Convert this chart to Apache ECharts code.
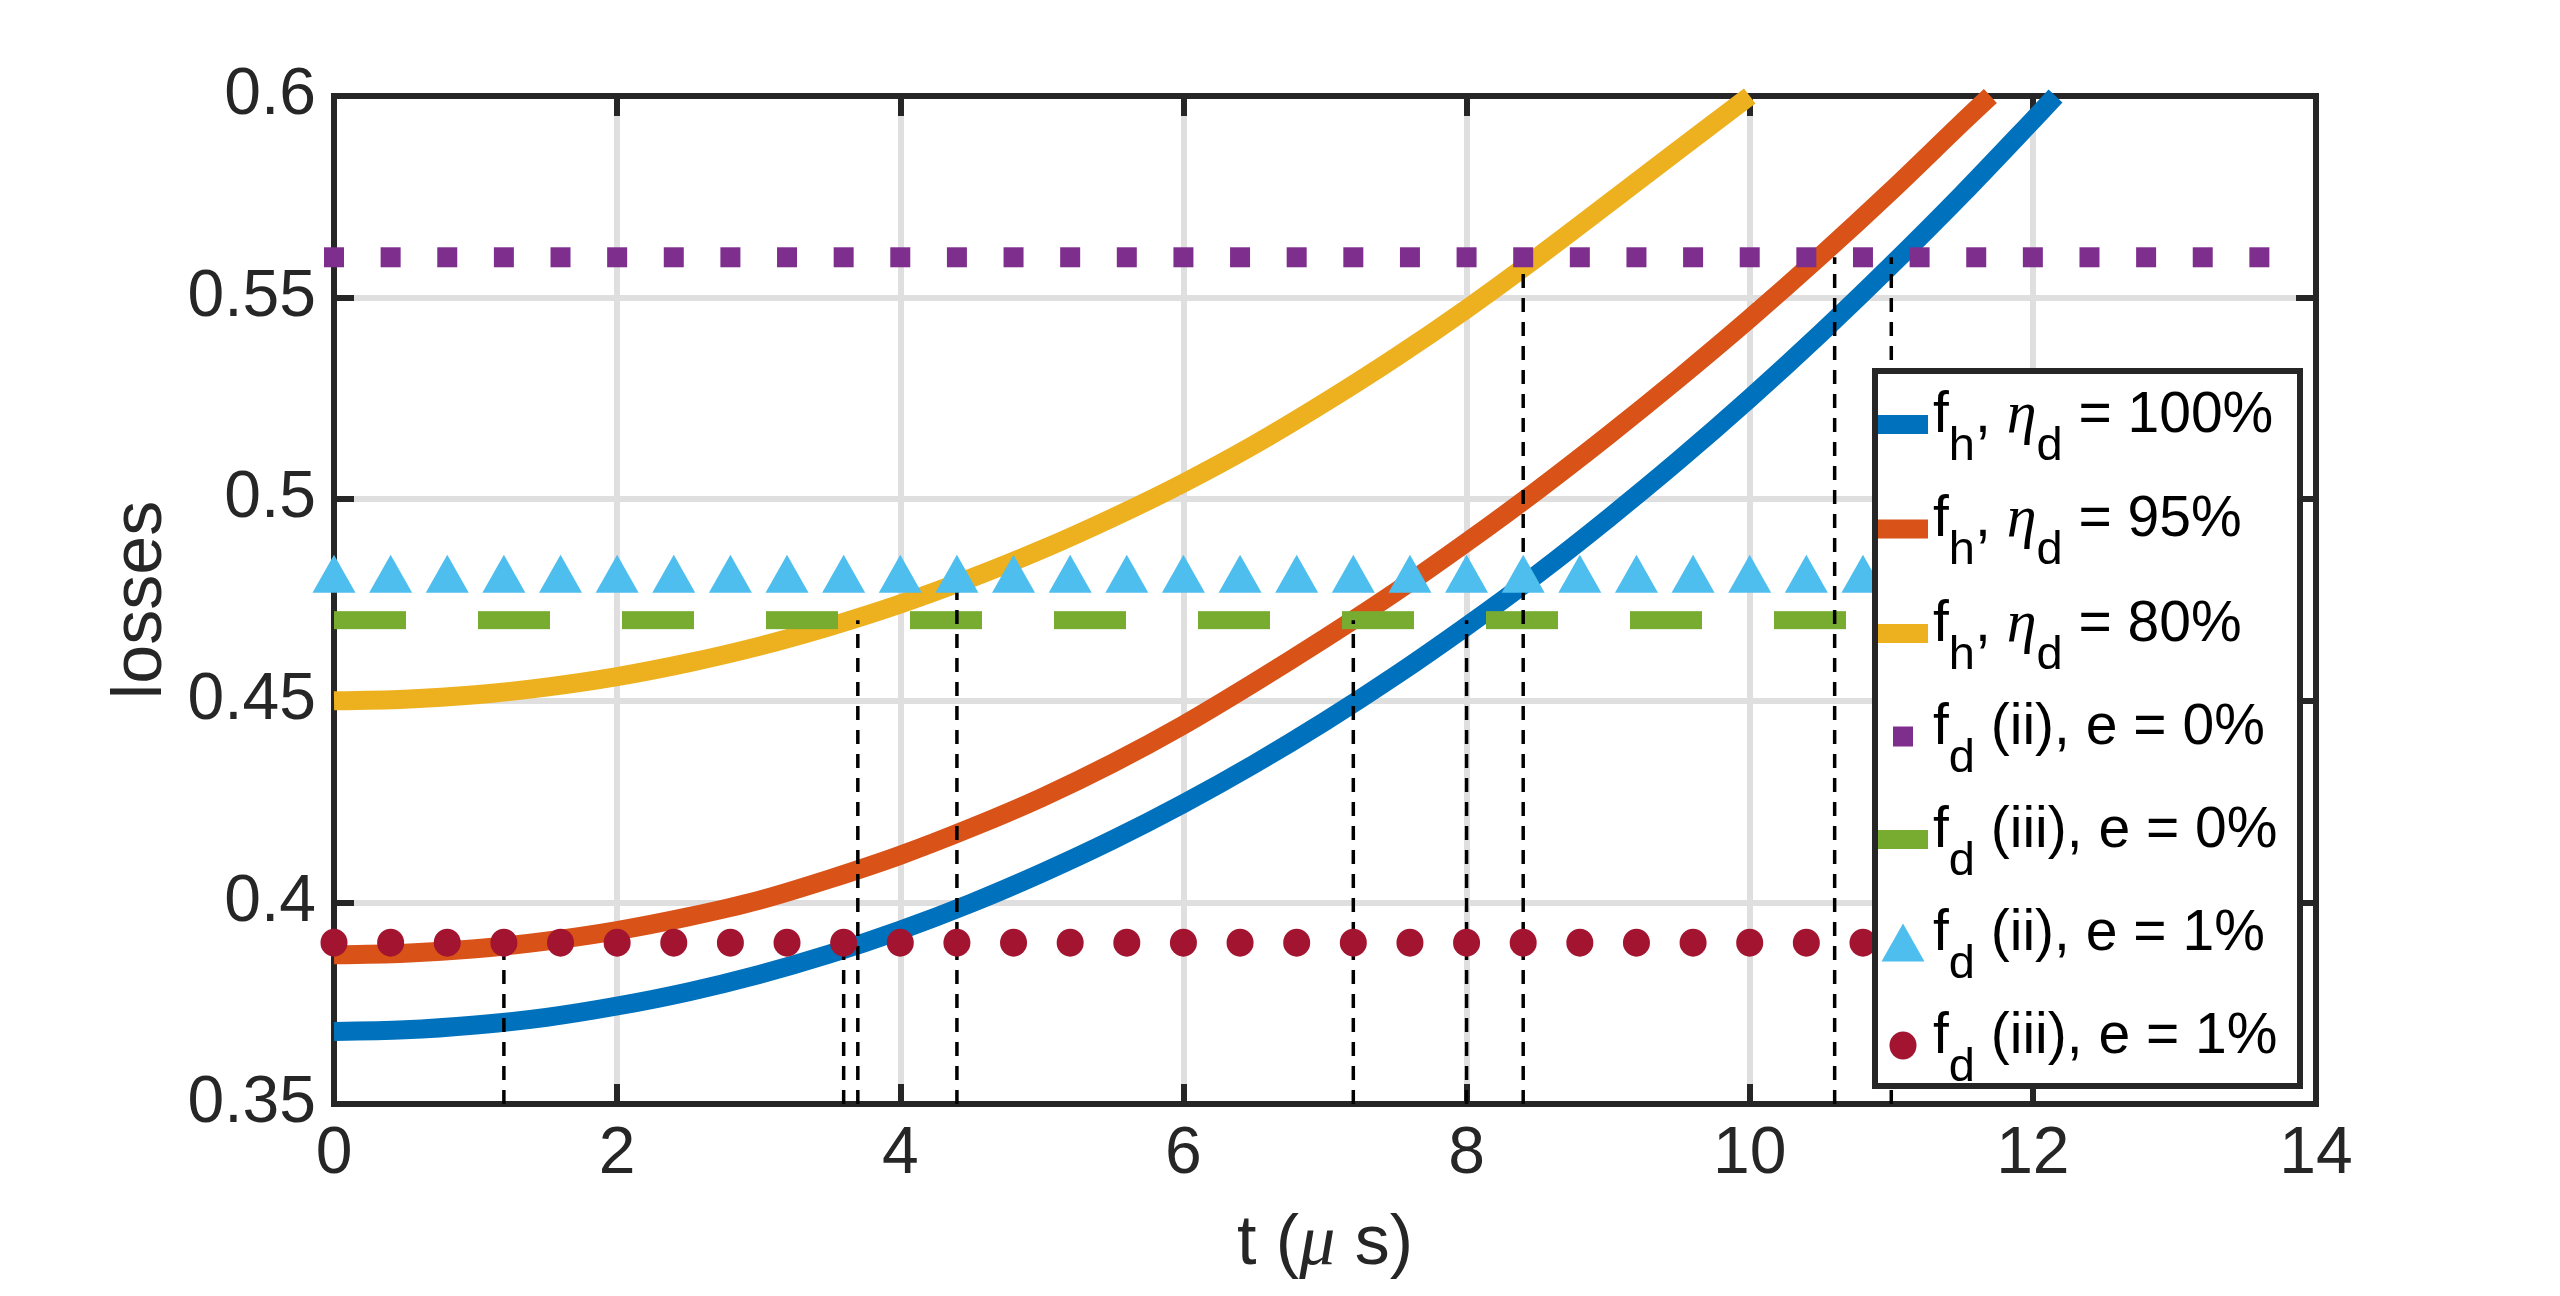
<!DOCTYPE html>
<html>
<head>
<meta charset="utf-8">
<title>losses vs t</title>
<script src="https://cdn.jsdelivr.net/npm/echarts@6/dist/echarts.min.js"></script>
<style>
  html, body { margin: 0; padding: 0; background: #fff; }
  #main { width: 2560px; height: 1296px; }
</style>
</head>
<body>
<div id="main"></div>
<script>
// axis ticks
var xTicks = [0, 2, 4, 6, 8, 10, 12, 14];
var yTicks = [0.35, 0.4, 0.45, 0.5, 0.55, 0.6];

// f_h curves (every 0.5 us)
var tEta100 = [0, 0.5, 1, 1.5, 2, 2.5, 3, 3.5, 4, 4.5, 5, 5.5, 6, 6.5, 7, 7.5, 8, 8.5, 9, 9.5,
  10, 10.5, 11, 11.5, 12, 12.16];
var lossEta100 = [0.368, 0.3684, 0.3696, 0.3715, 0.3743, 0.3778, 0.3821, 0.3872, 0.3931, 0.3998,
  0.4073, 0.4155, 0.4245, 0.4343, 0.4449, 0.4563, 0.4685, 0.4814, 0.4952, 0.5097,
  0.525, 0.5411, 0.558, 0.5756, 0.594, 0.6];
var tEta95 = [0, 0.5, 1, 1.5, 2, 2.5, 3, 3.5, 4, 4.5, 5, 5.5, 6, 6.5, 7, 7.5, 8, 8.5, 9, 9.5,
  10, 10.5, 11, 11.5, 11.7];
var lossEta95 = [0.387, 0.3874, 0.3885, 0.3904, 0.393, 0.3964, 0.4005, 0.4058, 0.4117, 0.4185,
  0.426, 0.4345, 0.444, 0.4545, 0.4655, 0.477, 0.4893, 0.5022, 0.5158, 0.53,
  0.5448, 0.5603, 0.5765, 0.5934, 0.6];
var tEta80 = [0, 0.5, 1, 1.5, 2, 2.5, 3, 3.5, 4, 4.5, 5, 5.5, 6, 6.5, 7, 7.5, 8, 8.5, 9, 9.5, 10];
var lossEta80 = [0.45, 0.4504, 0.4515, 0.4534, 0.456, 0.4594, 0.4635, 0.4684, 0.474, 0.4804,
  0.4875, 0.4954, 0.504, 0.5135, 0.524, 0.5352, 0.5472, 0.56, 0.5733, 0.5867, 0.6];

// f_d levels, markers every 0.4
var markT = [0, 0.4, 0.8, 1.2, 1.6, 2, 2.4, 2.8, 3.2, 3.6, 4, 4.4, 4.8, 5.2, 5.6, 6, 6.4, 6.8,
  7.2, 7.6, 8, 8.4, 8.8, 9.2, 9.6, 10, 10.4, 10.8, 11.2, 11.6, 12, 12.4, 12.8, 13.2, 13.6];
var lossII0 = 0.56;
var lossIII0 = 0.47;
var lossII1 = 0.48;
var lossIII1 = 0.39;
var lineIII0T = [0, 14];

// dashed drop lines at the crossings
var dropT = [1.2, 3.6, 3.7, 4.4, 7.2, 8.0, 8.4, 10.6, 11.0];
var dropTop = [0.39, 0.39, 0.47, 0.48, 0.47, 0.47, 0.56, 0.56, 0.56];

var names = ['fh, ηd = 100%', 'fh, ηd = 95%', 'fh, ηd = 80%',
  'fd (ii), e = 0%', 'fd (iii), e = 0%', 'fd (ii), e = 1%', 'fd (iii), e = 1%'];
var legendText = [
  '{m|f}{s|h}{m|, }{g|η}{s|d}{m| = 100%}',
  '{m|f}{s|h}{m|, }{g|η}{s|d}{m| = 95%}',
  '{m|f}{s|h}{m|, }{g|η}{s|d}{m| = 80%}',
  '{m|f}{s|d}{m| (ii), e = 0%}',
  '{m|f}{s|d}{m| (iii), e = 0%}',
  '{m|f}{s|d}{m| (ii), e = 1%}',
  '{m|f}{s|d}{m| (iii), e = 1%}'
];

var FONT = "'Liberation Sans', Arial, Helvetica, sans-serif";
var AX = '#262626';

function pairs(ts, vs) {
  return ts.map(function (t, i) { return [t, vs[i]]; });
}
function level(ts, v) {
  return ts.map(function (t) { return [t, v]; });
}

// legend icons, all in a 50x40 box
var iconLine = 'path://M0,0M50,40M0,10.5L50,10.5L50,29.5L0,29.5Z';
var iconSquare = 'path://M0,0M50,40M15,10L35,10L35,30L15,30Z';
var iconTri = 'path://M0,0M50,40M25,1L46.5,39L3.5,39Z';
var iconDot = 'path://M0,0M50,40M11.5,20A13.5,14,0,1,0,38.5,20A13.5,14,0,1,0,11.5,20Z';

var chart = echarts.init(document.getElementById('main'));

var axisLineStyle = { color: AX, width: 6, cap: 'square' };
var tickStyle = { show: true, inside: true, length: 20, lineStyle: { color: AX, width: 6 } };
var gridStyle = { show: true, lineStyle: { color: '#dfdfdf', width: 6 } };

var series = [
  { name: names[0], type: 'line', data: pairs(tEta100, lossEta100), symbol: 'none', smooth: 0.3,
    lineStyle: { color: '#0072BD', width: 19 }, itemStyle: { color: '#0072BD' }, z: 3 },
  { name: names[1], type: 'line', data: pairs(tEta95, lossEta95), symbol: 'none', smooth: 0.3,
    lineStyle: { color: '#D95319', width: 19 }, itemStyle: { color: '#D95319' }, z: 3 },
  { name: names[2], type: 'line', data: pairs(tEta80, lossEta80), symbol: 'none', smooth: 0.3,
    lineStyle: { color: '#EDB120', width: 19 }, itemStyle: { color: '#EDB120' }, z: 3 },
  { name: names[3], type: 'scatter', data: level(markT, lossII0), symbol: 'rect', symbolSize: 20,
    itemStyle: { color: '#7E2F8E', opacity: 1 }, z: 3 },
  { name: names[4], type: 'line', data: level(lineIII0T, lossIII0), symbol: 'none',
    lineStyle: { color: '#77AC30', width: 18, type: [72, 72] }, itemStyle: { color: '#77AC30' }, z: 3 },
  { name: names[5], type: 'scatter', data: level(markT, lossII1), symbol: 'triangle', symbolSize: [43, 38],
    symbolOffset: [0, -6], itemStyle: { color: '#4DBEEE', opacity: 1 }, z: 3 },
  { name: names[6], type: 'scatter', data: level(markT, lossIII1), symbol: 'circle', symbolSize: [27, 28],
    itemStyle: { color: '#A2142F', opacity: 1 }, z: 3 }
];

dropT.forEach(function (t, i) {
  series.push({
    type: 'line', data: [[t, yTicks[0]], [t, dropTop[i]]], symbol: 'none', silent: true,
    lineStyle: { color: '#000', width: 3.5, type: [14, 10] }, z: 3
  });
});

// legend rich text: equal token heights, subscripts pushed down with padding
var mainTok = { color: '#000', fontSize: 57, fontFamily: FONT, height: 56, padding: [14, 0, 31, 0] };
var subTok = { color: '#000', fontSize: 47, fontFamily: FONT, height: 56, padding: [45, 0, 0, 0] };
var etaTok = { color: '#000', fontSize: 60, fontStyle: 'italic', fontFamily: "'Liberation Serif', serif",
  height: 56, padding: [14, 0, 31, 0] };

var option = {
  animation: false,
  backgroundColor: '#fff',
  grid: { left: 334, top: 96, right: 244, bottom: 192, containLabel: false },
  xAxis: [
    {
      type: 'value', position: 'bottom',
      min: xTicks[0], max: xTicks[xTicks.length - 1], interval: xTicks[1] - xTicks[0],
      name: '{n|t (}{g|μ}{n| s)}', nameLocation: 'middle', nameGap: 105,
      nameTextStyle: {
        color: AX, fontSize: 70, fontFamily: FONT,
        rich: {
          n: { color: AX, fontSize: 70, fontFamily: FONT },
          g: { color: AX, fontSize: 72, fontStyle: 'italic', fontFamily: "'Liberation Serif', serif" }
        }
      },
      axisLine: { show: true, onZero: false, lineStyle: axisLineStyle },
      axisTick: tickStyle,
      axisLabel: { color: AX, fontSize: 66, fontFamily: FONT, margin: 18 },
      splitLine: gridStyle
    },
    {
      type: 'value', position: 'top',
      min: xTicks[0], max: xTicks[xTicks.length - 1], interval: xTicks[1] - xTicks[0],
      axisLine: { show: true, onZero: false, lineStyle: axisLineStyle },
      axisTick: tickStyle, axisLabel: { show: false }, splitLine: { show: false }
    }
  ],
  yAxis: [
    {
      type: 'value', position: 'left',
      min: yTicks[0], max: yTicks[yTicks.length - 1], interval: 0.05,
      name: 'losses', nameLocation: 'middle', nameGap: 150,
      nameTextStyle: { color: AX, fontSize: 70, fontFamily: FONT },
      axisLine: { show: true, onZero: false, lineStyle: axisLineStyle },
      axisTick: tickStyle,
      axisLabel: { color: AX, fontSize: 66, fontFamily: FONT, margin: 18 },
      splitLine: gridStyle
    },
    {
      type: 'value', position: 'right',
      min: yTicks[0], max: yTicks[yTicks.length - 1], interval: 0.05,
      axisLine: { show: true, onZero: false, lineStyle: axisLineStyle },
      axisTick: tickStyle, axisLabel: { show: false }, splitLine: { show: false }
    }
  ],
  graphic: [
    {
      type: 'rect', z: 4,
      shape: { x: 1875, y: 371, width: 425, height: 715 },
      style: { fill: '#fff', stroke: AX, lineWidth: 6 }
    }
  ],
  legend: {
    orient: 'vertical', left: 1878, top: 386, padding: 0, itemGap: 20,
    itemWidth: 50, itemHeight: 40, z: 5, selectedMode: false,
    data: [
      { name: names[0], icon: iconLine },
      { name: names[1], icon: iconLine },
      { name: names[2], icon: iconLine },
      { name: names[3], icon: iconSquare },
      { name: names[4], icon: iconLine },
      { name: names[5], icon: iconTri },
      { name: names[6], icon: iconDot }
    ],
    formatter: function (name) { return legendText[names.indexOf(name)]; },
    textStyle: {
      color: '#000', fontSize: 57, fontFamily: FONT,
      rich: { m: mainTok, s: subTok, g: etaTok }
    }
  },
  series: series
};

chart.setOption(option);
</script>
</body>
</html>
